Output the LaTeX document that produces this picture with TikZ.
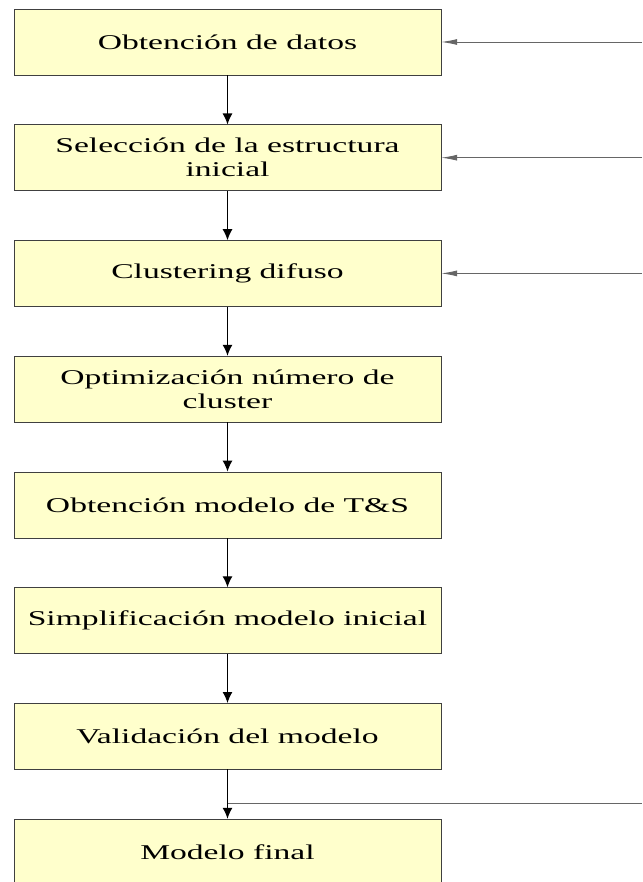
\documentclass[tikz,border=0pt]{standalone}
\usepackage{fontspec}
\setmainfont{Liberation Serif}[FakeStretch=1.6]
\usetikzlibrary{arrows.meta}
\definecolor{caja}{HTML}{FFFFCC}
\begin{document}
\begin{tikzpicture}[x=1pt,y=-1pt,
    paso/.style={draw=black!75,fill=caja,minimum width=427pt,minimum height=66pt,
        inner sep=0pt,align=center,font=\fontsize{21}{24}\selectfont},
    flecha/.style={-{Latex[length=11pt,width=10pt]},line width=1.2pt},
    retorno/.style={-{Latex[length=16pt,width=6pt]},draw=black!60,line width=0.9pt}]
    \useasboundingbox (0,0) rectangle (642,882);
    \clip (0,0) rectangle (642,882);
        \node [paso] (obt) at (227.5,42) {Obtención de datos};
        \node [paso] (sel) at (227.5,157.7) {Selección de la estructura\\inicial};
        \node [paso] (clu) at (227.5,273.4) {Clustering difuso};
        \node [paso] (opt) at (227.5,389) {Optimización número de\\cluster};
        \node [paso] (ts) at (227.5,504.8) {Obtención modelo de T\&S};
        \node [paso] (sim) at (227.5,620.5) {Simplificación modelo inicial};
        \node [paso] (val) at (227.5,736.2) {Validación del modelo};
        \node [paso] (fin) at (227.5,852) {Modelo final};
        \draw [flecha] (obt) -- (sel);
        \draw [flecha] (sel) -- (clu);
        \draw [flecha] (clu) -- (opt);
        \draw [flecha] (opt) -- (ts);
        \draw [flecha] (ts) -- (sim);
        \draw [flecha] (sim) -- (val);
        \draw [flecha] (val) -- (fin);
        % lazos de vuelta
        \coordinate (r1) at (642,42);
        \coordinate (r2) at (642,157.7);
        \coordinate (r3) at (642,273.4);
        \coordinate (v) at (227.5,803);
        \coordinate (r4) at (642,803);
        \draw [retorno] (r1) -- (obt.east);
        \draw [retorno] (r2) -- (sel.east);
        \draw [retorno] (r3) -- (clu.east);
        \draw [draw=black!60,line width=0.9pt] (v) -- (r4);
    \end{tikzpicture}
\end{document}
